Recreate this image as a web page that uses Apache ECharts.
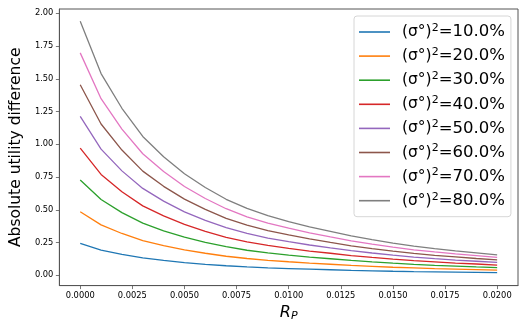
<!DOCTYPE html>
<html>
<head>
<meta charset="utf-8">
<script src="https://cdn.jsdelivr.net/npm/echarts@6/dist/echarts.min.js"></script>
<style>
  html, body { margin: 0; padding: 0; background: #fff; }
  #chart { width: 527px; height: 327px; }
</style>
</head>
<body>
<div id="chart"></div>
<script>
// R_P sampled every 0.001
const rp = [0, 0.001, 0.002, 0.003, 0.004, 0.005, 0.006, 0.007, 0.008, 0.009, 0.010,
  0.011, 0.012, 0.013, 0.014, 0.015, 0.016, 0.017, 0.018, 0.019, 0.020]

const shares = ['10.0%', '20.0%', '30.0%', '40.0%', '50.0%', '60.0%', '70.0%', '80.0%']
const names = shares.map(s => '(σ°)²=' + s)

const s10 = [0.2425, 0.1925, 0.1594, 0.1325, 0.1131, 0.0969, 0.0838, 0.0725, 0.0638, 0.0569, 0.0513,
  0.0463, 0.0419, 0.0375, 0.034, 0.0306, 0.0278, 0.0254, 0.0233, 0.0214, 0.0195]
const s20 = [0.485, 0.385, 0.319, 0.265, 0.226, 0.194, 0.168, 0.145, 0.128, 0.114, 0.103,
  0.093, 0.084, 0.075, 0.068, 0.061, 0.056, 0.051, 0.047, 0.043, 0.039]
const s30 = [0.728, 0.578, 0.478, 0.398, 0.339, 0.291, 0.251, 0.218, 0.191, 0.171, 0.154,
  0.139, 0.126, 0.113, 0.102, 0.092, 0.083, 0.076, 0.070, 0.064, 0.059]
const s40 = [0.97, 0.77, 0.638, 0.53, 0.453, 0.388, 0.335, 0.29, 0.255, 0.228, 0.205,
  0.185, 0.168, 0.15, 0.136, 0.123, 0.111, 0.102, 0.093, 0.086, 0.078]
const s50 = [1.213, 0.963, 0.797, 0.663, 0.566, 0.484, 0.419, 0.363, 0.319, 0.284, 0.256,
  0.231, 0.209, 0.188, 0.170, 0.153, 0.139, 0.127, 0.116, 0.107, 0.098]
const s60 = [1.455, 1.155, 0.956, 0.795, 0.679, 0.581, 0.503, 0.435, 0.383, 0.341, 0.308,
  0.278, 0.251, 0.225, 0.204, 0.184, 0.167, 0.152, 0.140, 0.128, 0.117]
const s70 = [1.698, 1.348, 1.116, 0.928, 0.792, 0.678, 0.586, 0.508, 0.446, 0.398, 0.359,
  0.324, 0.293, 0.263, 0.238, 0.214, 0.194, 0.178, 0.163, 0.150, 0.137]
const s80 = [1.94, 1.54, 1.275, 1.06, 0.905, 0.775, 0.67, 0.58, 0.51, 0.455, 0.41,
  0.37, 0.335, 0.30, 0.272, 0.245, 0.222, 0.203, 0.186, 0.171, 0.156]

const xTicks = [0, 0.0025, 0.005, 0.0075, 0.01, 0.0125, 0.015, 0.0175, 0.02]
const yTicks = [0, 0.25, 0.5, 0.75, 1.0, 1.25, 1.5, 1.75, 2.0]

const colors = ['#1f77b4', '#ff7f0e', '#2ca02c', '#d62728', '#9467bd', '#8c564b', '#e377c2', '#7f7f7f']
const allSeries = [s10, s20, s30, s40, s50, s60, s70, s80]
const font = 'DejaVu Sans'
const spine = '#555'

const chart = echarts.init(document.getElementById('chart'))

chart.setOption({
  animation: false,
  color: colors,
  grid: {
    left: 48, right: 9, top: 9, bottom: 39,
    show: true,
    borderColor: spine,
    borderWidth: 1
  },
  legend: {
    data: names,
    orient: 'vertical',
    left: 354,
    top: 16,
    padding: [6.5, 6, 6.5, 5],
    itemGap: 5.1,
    itemWidth: 31,
    itemHeight: 1.6,
    icon: 'rect',
    backgroundColor: 'rgba(255,255,255,0.8)',
    borderColor: '#cccccc',
    borderWidth: 0.8,
    borderRadius: 3,
    formatter: name => {
      const i = names.indexOf(name)
      return '{m|(σ°)}{sup|2}{t|=' + shares[i] + '}'
    },
    textStyle: {
      fontFamily: font,
      fontSize: 16.5,
      lineHeight: 19,
      color: '#000',
      padding: [0, 0, 0, 7],
      rich: {
        m: { fontFamily: font, fontSize: 15.5, color: '#000', lineHeight: 19 },
        sup: { fontFamily: font, fontSize: 11, color: '#000', padding: [0, 0, 8, 0] },
        t: { fontFamily: font, fontSize: 16.5, color: '#000', lineHeight: 19 }
      }
    }
  },
  xAxis: {
    type: 'value',
    min: -0.001,
    max: 0.021,
    name: '{r|R}{s|P}',
    nameLocation: 'middle',
    nameGap: 14,
    nameTextStyle: {
      verticalAlign: 'top',
      rich: {
        r: { fontFamily: font, fontStyle: 'italic', fontSize: 16, color: '#000' },
        s: { fontFamily: font, fontStyle: 'italic', fontSize: 11, color: '#000', padding: [8, 0, 0, 0] }
      }
    },
    splitLine: { show: false },
    axisLine: { show: true, onZero: false, lineStyle: { color: spine, width: 1 } },
    axisTick: { show: true, length: 3.5, customValues: xTicks, lineStyle: { color: spine, width: 0.8 } },
    axisLabel: {
      customValues: xTicks,
      margin: 6,
      fontFamily: font,
      fontSize: 8.3,
      color: '#000',
      formatter: v => v.toFixed(4)
    }
  },
  yAxis: {
    type: 'value',
    min: -0.079,
    max: 2.033,
    name: 'Absolute utility difference',
    nameLocation: 'middle',
    nameGap: 32,
    nameTextStyle: { fontFamily: font, fontSize: 15.5, color: '#000' },
    splitLine: { show: false },
    axisLine: { show: true, onZero: false, lineStyle: { color: spine, width: 1 } },
    axisTick: { show: true, length: 3.5, customValues: yTicks, lineStyle: { color: spine, width: 0.8 } },
    axisLabel: {
      customValues: yTicks,
      margin: 6,
      fontFamily: font,
      fontSize: 8.3,
      color: '#000',
      formatter: v => v.toFixed(2)
    }
  },
  series: allSeries.map((vals, i) => ({
    name: names[i],
    type: 'line',
    symbol: 'none',
    data: rp.map((x, j) => [x, vals[j]]),
    lineStyle: { width: 1.3 }
  }))
})
</script>
</body>
</html>
